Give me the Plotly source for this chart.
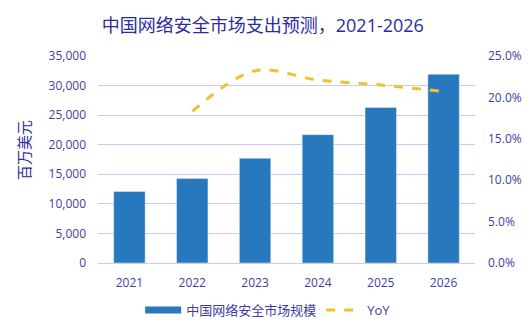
import plotly.graph_objects as go

years = ["2021", "2022", "2023", "2024", "2025", "2026"]
market = [12100, 14300, 17700, 21700, 26300, 31900]
yoy_years = ["2022", "2023", "2024", "2025", "2026"]
yoy = [18.3, 23.2, 22.1, 21.5, 20.7]
left_ticks = [0, 5000, 10000, 15000, 20000, 25000, 30000, 35000]
right_ticks = [0, 5, 10, 15, 20, 25]

BAR = "#2878BD"
GOLD = "#F2C12E"
TXT = "#3E3EA2"
GRID = "#CACAF2"
FONT = "Open Sans, Noto Sans CJK SC, sans-serif"

fig = go.Figure()
fig.add_trace(go.Bar(x=years, y=market, marker_color=BAR, showlegend=False,
                     name="中国网络安全市场规模"))
fig.add_trace(go.Scatter(x=[None], y=[None], mode="lines", name="中国网络安全市场规模",
                         line=dict(color=BAR, width=7)))
fig.add_trace(go.Scatter(x=yoy_years, y=yoy, mode="lines", name="YoY", yaxis="y2",
                         line=dict(color=GOLD, width=3, dash="dash", shape="spline", smoothing=1)))

fig.update_layout(
    width=531, height=334,
    margin=dict(l=98, r=56, t=56, b=71),
    paper_bgcolor="white", plot_bgcolor="white",
    font=dict(family=FONT, color=TXT, size=12),
    bargap=0.5,
    title=dict(text="中国网络安全市场支出预测，2021-2026", x=0.495, xanchor="center",
               y=1 - 26 / 334, yanchor="middle", font=dict(size=18, color="#2C2C9C")),
    xaxis=dict(showgrid=False, showline=False, ticks="", tickfont=dict(size=12, color=TXT),
               ticklabelstandoff=11, automargin=False),
    yaxis=dict(range=[0, 35000], tickvals=left_ticks, tickformat=",d", gridcolor=GRID,
               gridwidth=1.2, zeroline=True, zerolinecolor=GRID, zerolinewidth=1.2,
               showline=False, tickfont=dict(size=12, color=TXT), ticklabelstandoff=11,
               automargin=False),
    yaxis2=dict(range=[0, 25], tickvals=right_ticks, ticktext=[f"{v:.1f}%" for v in right_ticks],
                overlaying="y", side="right", showgrid=False, zeroline=False,
                tickfont=dict(size=12, color=TXT), ticklabelstandoff=12, automargin=False),
    legend=dict(orientation="h", xref="container", yref="container", x=0.505, y=(334 - 310) / 334,
                xanchor="center", yanchor="middle", font=dict(size=13, color=TXT),
                itemwidth=36, tracegroupgap=0),
    annotations=[dict(text="百万美元", textangle=-90, xref="paper", yref="paper",
                      x=(24 - 98) / 377, y=(263 - 150) / 207, xanchor="center", yanchor="middle",
                      showarrow=False, font=dict(size=15, color="#2C2C9C"))],
)

fig.write_html("out.html")
